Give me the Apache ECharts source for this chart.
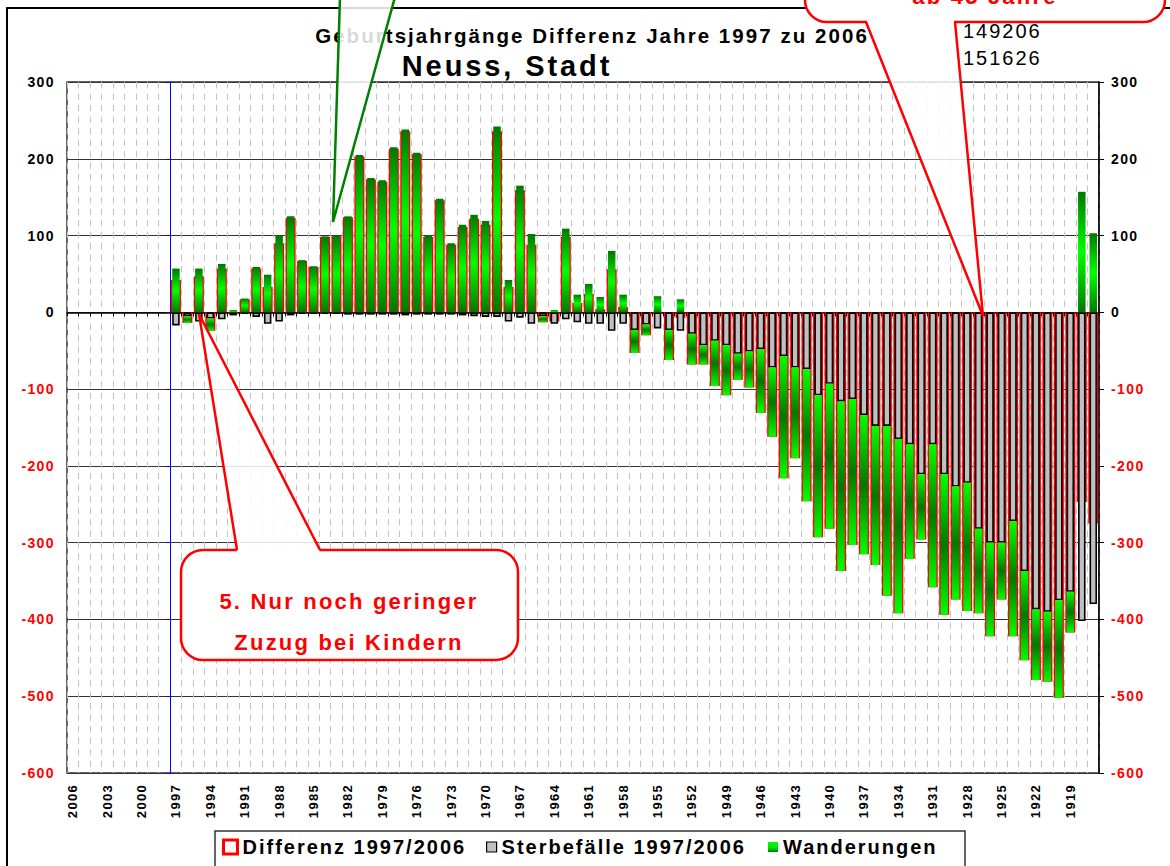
<!DOCTYPE html>
<html>
<head>
<meta charset="utf-8">
<title>Geburtsjahrgänge Differenz Jahre 1997 zu 2006 - Neuss, Stadt</title>
<script src="https://cdn.jsdelivr.net/npm/echarts@6/dist/echarts.min.js"></script>
<style>
  html, body { margin: 0; padding: 0; background: #fff; }
  #chart { width: 1170px; height: 866px; }
  /* die Vorlage setzt alle Texte gesperrt */
  #chart svg text { letter-spacing: 0.1em; }
</style>
</head>
<body>
<div id="chart"></div>
<script>
// Geburtsjahrgaenge, von 2006 rueckwaerts bis 1917
const jahrgaenge = [
  '2006', '2005', '2004', '2003', '2002', '2001', '2000', '1999', '1998', '1997',
  '1996', '1995', '1994', '1993', '1992', '1991', '1990', '1989', '1988', '1987',
  '1986', '1985', '1984', '1983', '1982', '1981', '1980', '1979', '1978', '1977',
  '1976', '1975', '1974', '1973', '1972', '1971', '1970', '1969', '1968', '1967',
  '1966', '1965', '1964', '1963', '1962', '1961', '1960', '1959', '1958', '1957',
  '1956', '1955', '1954', '1953', '1952', '1951', '1950', '1949', '1948', '1947',
  '1946', '1945', '1944', '1943', '1942', '1941', '1940', '1939', '1938', '1937',
  '1936', '1935', '1934', '1933', '1932', '1931', '1930', '1929', '1928', '1927',
  '1926', '1925', '1924', '1923', '1922', '1921', '1920', '1919', '1918', '1917'
]

// Sterbefaelle 1997/2006 je Jahrgang
const sterbefaelle = [
  null, null, null, null, null, null, null, null, null, -17,
  -5, -12, -8, -9, -4, -2, -6, -15, -12, -4,
  -2, -2, -2, -2, -3, -3, -3, -3, -3, -4,
  -3, -3, -3, -3, -4, -5, -6, -6, -12, -7,
  -15, -5, -15, -9, -13, -15, -15, -24, -15, -23,
  -16, -21, -23, -24, -28, -43, -37, -43, -54, -51,
  -48, -72, -57, -72, -74, -108, -93, -116, -113, -134,
  -148, -148, -165, -172, -211, -172, -211, -227, -222, -282,
  -300, -300, -272, -337, -387, -390, -375, -364, -402, -380
]

// Wanderungen (Zu- minus Fortzuege)
const wanderungen = [
  null, null, null, null, null, null, null, null, null, 57,
  -9, 57, -16, 63, 3, 18, 59, 49, 100, 125,
  68, 60, 99, 100, 125, 205, 175, 172, 215, 238,
  208, 100, 148, 90, 114, 127, 119, 242, 42, 165,
  102, -8, 3, 109, 23, 37, 20, 80, 23, -30,
  -14, 21, -39, 17, -40, -25, -59, -65, -34, -47,
  -83, -90, -159, -118, -172, -185, -189, -221, -190, -181,
  -181, -221, -227, -149, -85, -186, -183, -147, -167, -110,
  -122, -74, -150, -116, -92, -91, -127, -53, 157, 103
]

// Differenz 1997/2006
const differenz = [
  null, null, null, null, null, null, null, null, null, 42,
  -14, 47, -24, 57, -1, 17, 57, 33, 90, 123,
  67, 59, 98, 99, 124, 203, 173, 170, 213, 236,
  206, 98, 146, 88, 111, 122, 114, 236, 33, 159,
  88, -13, -12, 98, 12, 24, 4, 56, 7, -53,
  -30, -1, -62, -7, -68, -68, -96, -108, -88, -98,
  -131, -162, -216, -190, -246, -293, -282, -337, -303, -315,
  -329, -369, -392, -321, -296, -358, -394, -374, -389, -392,
  -422, -374, -422, -453, -479, -481, -502, -417, -247, -275
]

const FONT = "'Liberation Sans', Arial, Helvetica, sans-serif"

const chart = echarts.init(document.getElementById('chart'), null, { renderer: 'svg' })

const gruenPlus = new echarts.graphic.LinearGradient(0, 0, 0, 1, [
  { offset: 0, color: '#007800' },
  { offset: 0.5, color: '#00ff00' },
  { offset: 1, color: '#007800' }
])
const gruenMinus = new echarts.graphic.LinearGradient(0, 0, 0, 1, [
  { offset: 0, color: '#00ff00' },
  { offset: 0.5, color: '#007800' },
  { offset: 1, color: '#00ff00' }
])
const gruenLegende = new echarts.graphic.LinearGradient(0, 0, 0, 1, [
  { offset: 0, color: '#00ff00' },
  { offset: 0.6, color: '#00e000' },
  { offset: 1, color: '#008000' }
])

const yLabel = {
  fontFamily: FONT,
  fontSize: 14,
  fontWeight: 'bold',
  margin: 12,
  color: value => (value < 0 ? '#ff0000' : '#000000')
}

function legende (name, left, size, style) {
  return {
    left: left,
    top: 837,
    padding: 0,
    itemWidth: size,
    itemHeight: size,
    icon: 'rect',
    selectedMode: false,
    textStyle: { fontFamily: FONT, fontSize: 20, fontWeight: 'bold', color: '#000' },
    data: [{ name: name, itemStyle: style }]
  }
}

// Sprechblase: abgerundeter Kasten plus Spitze
function sprechblase (box, basis, spitze, farbe) {
  return [
    {
      type: 'rect', z: 100,
      shape: { x: box[0], y: box[1], width: box[2], height: box[3], r: 22 },
      style: { fill: '#fff', stroke: farbe, lineWidth: 2.5 }
    },
    {
      type: 'polygon', z: 101,
      shape: { points: [[basis[0], basis[2] + 1.5], spitze, [basis[1], basis[2] + 1.5]] },
      style: { fill: 'rgba(255,255,255,0.85)' }
    },
    {
      type: 'rect', z: 101,
      shape: { x: basis[0] + 1, y: basis[2] - 3, width: basis[1] - basis[0] - 2, height: 5 },
      style: { fill: '#fff' }
    },
    {
      type: 'polyline', z: 102,
      shape: { points: [[basis[0], basis[2]], spitze, [basis[1], basis[2]]] },
      style: { stroke: farbe, lineWidth: 2.5, fill: null }
    }
  ]
}

const option = {
  backgroundColor: '#fff',
  animation: false,
  textStyle: { fontFamily: FONT },
  grid: {
    left: 67,
    right: 71,
    top: 82,
    bottom: 93,
    show: true,
    borderColor: '#333',
    borderWidth: 1.5,
    containLabel: false,
    outerBoundsMode: 'none'
  },
  legend: [
    legende('Differenz 1997/2006', 222, 14, { color: '#fff', borderColor: '#ff0000', borderWidth: 3 }),
    legende('Sterbefälle 1997/2006', 486, 10, { color: '#c0c0c0', borderColor: '#000', borderWidth: 1.2 }),
    legende('Wanderungen', 768, 10, { color: gruenLegende, borderWidth: 0 })
  ],
  xAxis: [
    {
      // Nulllinie mit Teilstrichen
      type: 'category',
      data: jahrgaenge,
      position: 'bottom',
      axisLine: { onZero: true, lineStyle: { color: '#000', width: 1.5 } },
      axisTick: { show: true, interval: 0, length: 4, lineStyle: { color: '#000' } },
      axisLabel: { show: false },
      splitLine: {
        show: true,
        interval: 0,
        lineStyle: { color: '#c4c4c4', width: 1, type: [6.5, 5] }
      }
    },
    {
      // Beschriftung unten
      type: 'category',
      data: jahrgaenge,
      position: 'bottom',
      axisLine: { show: false, onZero: false },
      axisTick: { show: false },
      splitLine: { show: false },
      axisLabel: {
        interval: 2,
        rotate: 90,
        margin: 11,
        fontFamily: FONT,
        fontSize: 13,
        fontWeight: 'bold',
        color: '#000'
      }
    }
  ],
  yAxis: [
    {
      type: 'value',
      position: 'left',
      min: -600,
      max: 300,
      interval: 100,
      axisLine: { show: false },
      axisTick: { show: false },
      axisLabel: yLabel,
      splitLine: { show: true, lineStyle: { color: '#333', width: 1 } }
    },
    {
      type: 'value',
      position: 'right',
      min: -600,
      max: 300,
      interval: 100,
      axisLine: { show: true, lineStyle: { color: '#000', width: 1.5 } },
      axisTick: { show: true, length: 5, lineStyle: { color: '#000' } },
      axisLabel: yLabel,
      splitLine: { show: false }
    },
    {
      // blaue Achse an der Grenze 1998/1997
      type: 'value',
      position: 'left',
      offset: -103,
      min: -600,
      max: 300,
      interval: 100,
      axisLine: { show: true, lineStyle: { color: '#0000ff', width: 1 } },
      axisTick: { show: true, length: 4, lineStyle: { color: '#0000ff' } },
      axisLabel: { show: false },
      splitLine: { show: false }
    }
  ],
  series: [
    {
      name: 'Differenz 1997/2006',
      type: 'bar',
      xAxisIndex: 1,
      yAxisIndex: 0,
      barWidth: 10,
      data: differenz,
      itemStyle: { color: '#fff', borderColor: '#ff0000', borderWidth: 2 }
    },
    {
      name: 'Sterbefälle 1997/2006',
      type: 'bar',
      xAxisIndex: 0,
      yAxisIndex: 0,
      stack: 'bewegung',
      barWidth: 7.5,
      data: sterbefaelle,
      itemStyle: { color: '#c0c0c0', borderColor: '#000', borderWidth: 1.6 }
    },
    {
      name: 'Wanderungen',
      type: 'bar',
      xAxisIndex: 0,
      yAxisIndex: 0,
      stack: 'bewegung',
      barWidth: 7.5,
      data: wanderungen,
      itemStyle: {
        color: p => (p.value >= 0 ? gruenPlus : gruenMinus),
        borderWidth: 0
      }
    }
  ],
  graphic: [
    // Rahmen um das Diagramm
    {
      type: 'rect', z: 1, silent: true,
      shape: { x: 7, y: 8, width: 1300, height: 1000 },
      style: { fill: null, stroke: '#000', lineWidth: 2 }
    },
    // Kasten der Legende
    {
      type: 'rect', z: 3, silent: true,
      shape: { x: 215, y: 831, width: 750, height: 60 },
      style: { fill: '#fff', stroke: '#333', lineWidth: 1.5 }
    },
    {
      type: 'text', z: 50, x: 592, y: 35,
      style: {
        text: 'Geburtsjahrgänge Differenz Jahre 1997 zu 2006',
        font: 'bold 20.5px ' + FONT,
        fill: '#000',
        align: 'center',
        verticalAlign: 'middle'
      }
    },
    {
      type: 'text', z: 50, x: 507, y: 66,
      style: {
        text: 'Neuss, Stadt',
        font: 'bold 29px ' + FONT,
        fill: '#000',
        align: 'center',
        verticalAlign: 'middle'
      }
    },
    {
      type: 'text', z: 50, x: 963, y: 31,
      style: { text: '149206', font: '20px ' + FONT, fill: '#000', align: 'left', verticalAlign: 'middle' }
    },
    {
      type: 'text', z: 50, x: 963, y: 58,
      style: { text: '151626', font: '20px ' + FONT, fill: '#000', align: 'left', verticalAlign: 'middle' }
    },
    // gruene Spitze von oben
    {
      type: 'polygon', z: 100,
      shape: { points: [[340, -3], [333, 222], [395, -3]] },
      style: { fill: 'rgba(255,255,255,0.85)', stroke: '#008000', lineWidth: 2.5 }
    },
    ...sprechblase([181, 550, 337, 110], [237, 320, 550], [199, 314], '#ff0000'),
    {
      type: 'text', z: 103, x: 349, y: 601,
      style: {
        text: '5. Nur noch geringer',
        font: 'bold 22px ' + FONT,
        fill: '#ff0000',
        align: 'center',
        verticalAlign: 'middle'
      }
    },
    {
      type: 'text', z: 103, x: 349, y: 642,
      style: {
        text: 'Zuzug bei Kindern',
        font: 'bold 22px ' + FONT,
        fill: '#ff0000',
        align: 'center',
        verticalAlign: 'middle'
      }
    },
    ...sprechblase([805, -70, 360, 92], [866, 955, 22], [983, 316], '#ff0000'),
    {
      // in der Vorlage oben angeschnitten
      type: 'text', z: 103, x: 985, y: -4,
      style: {
        text: 'ab 45 Jahre',
        font: 'bold 22px ' + FONT,
        fill: '#ff0000',
        align: 'center',
        verticalAlign: 'middle'
      }
    }
  ]
}

chart.setOption(option)
</script>
</body>
</html>
